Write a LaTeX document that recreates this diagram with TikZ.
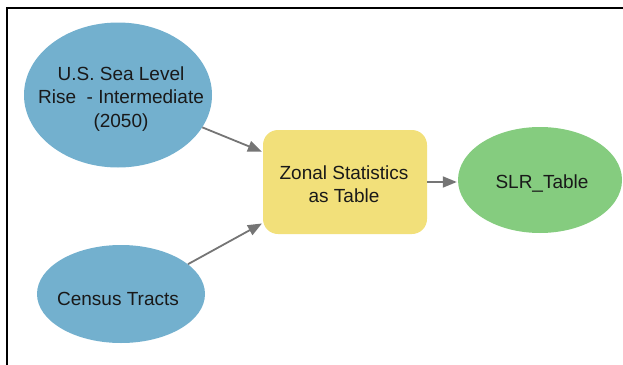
\documentclass[tikz,border=0pt]{standalone}
\usepackage{fontspec}
\setmainfont{Liberation Sans}
\usetikzlibrary{shapes.geometric,arrows.meta}
\definecolor{dsblue}{HTML}{73B0CE}
\definecolor{dsgreen}{HTML}{85CC7F}
\definecolor{tlyellow}{HTML}{F2E07A}
\definecolor{conngray}{HTML}{757575}
\tikzset{
  every node/.style={font=\fontsize{19}{23.5}\selectfont, text=black!90, align=center},
  dataset/.style={ellipse, fill=dsblue, inner sep=0pt},
  output/.style={ellipse, fill=dsgreen, inner sep=0pt},
  tool/.style={rounded corners=15pt, fill=tlyellow, inner sep=0pt},
  conn/.style={draw=conngray, line width=1.8pt, -{Triangle[length=14pt,width=11pt]}, shorten >=1pt}
}
\begin{document}
\begin{tikzpicture}[x=1pt,y=-1pt]
\useasboundingbox (0,0) rectangle (623,364);
\draw[line width=2.5pt, line cap=rect] (623,8) -- (7,8) -- (7,364);
\node[dataset, minimum width=188pt, minimum height=145pt] (slr) at (118,95) {};
\node at (121,99) {U.S. Sea Level\\Rise\ \ - Intermediate\\(2050)};
\node[dataset, minimum width=168pt, minimum height=98pt] (ct) at (121,294) {};
\node at (118,299) {Census Tracts};
\node[tool, minimum width=164pt, minimum height=104pt] (zs) at (345,182) {};
\node at (344,184) {Zonal Statistics\\as Table};
\node[output, minimum width=164pt, minimum height=106pt] (out) at (540,180) {};
\node at (542,184) {SLR\_Table};
\draw[conn] (slr.-21) -- (zs.west |- 0,152);
\draw[conn] (ct.24) -- (zs.west |- 0,223);
\draw[conn] (zs.east |- 0,182) -- (out.west |- 0,182);
\end{tikzpicture}
\end{document}
